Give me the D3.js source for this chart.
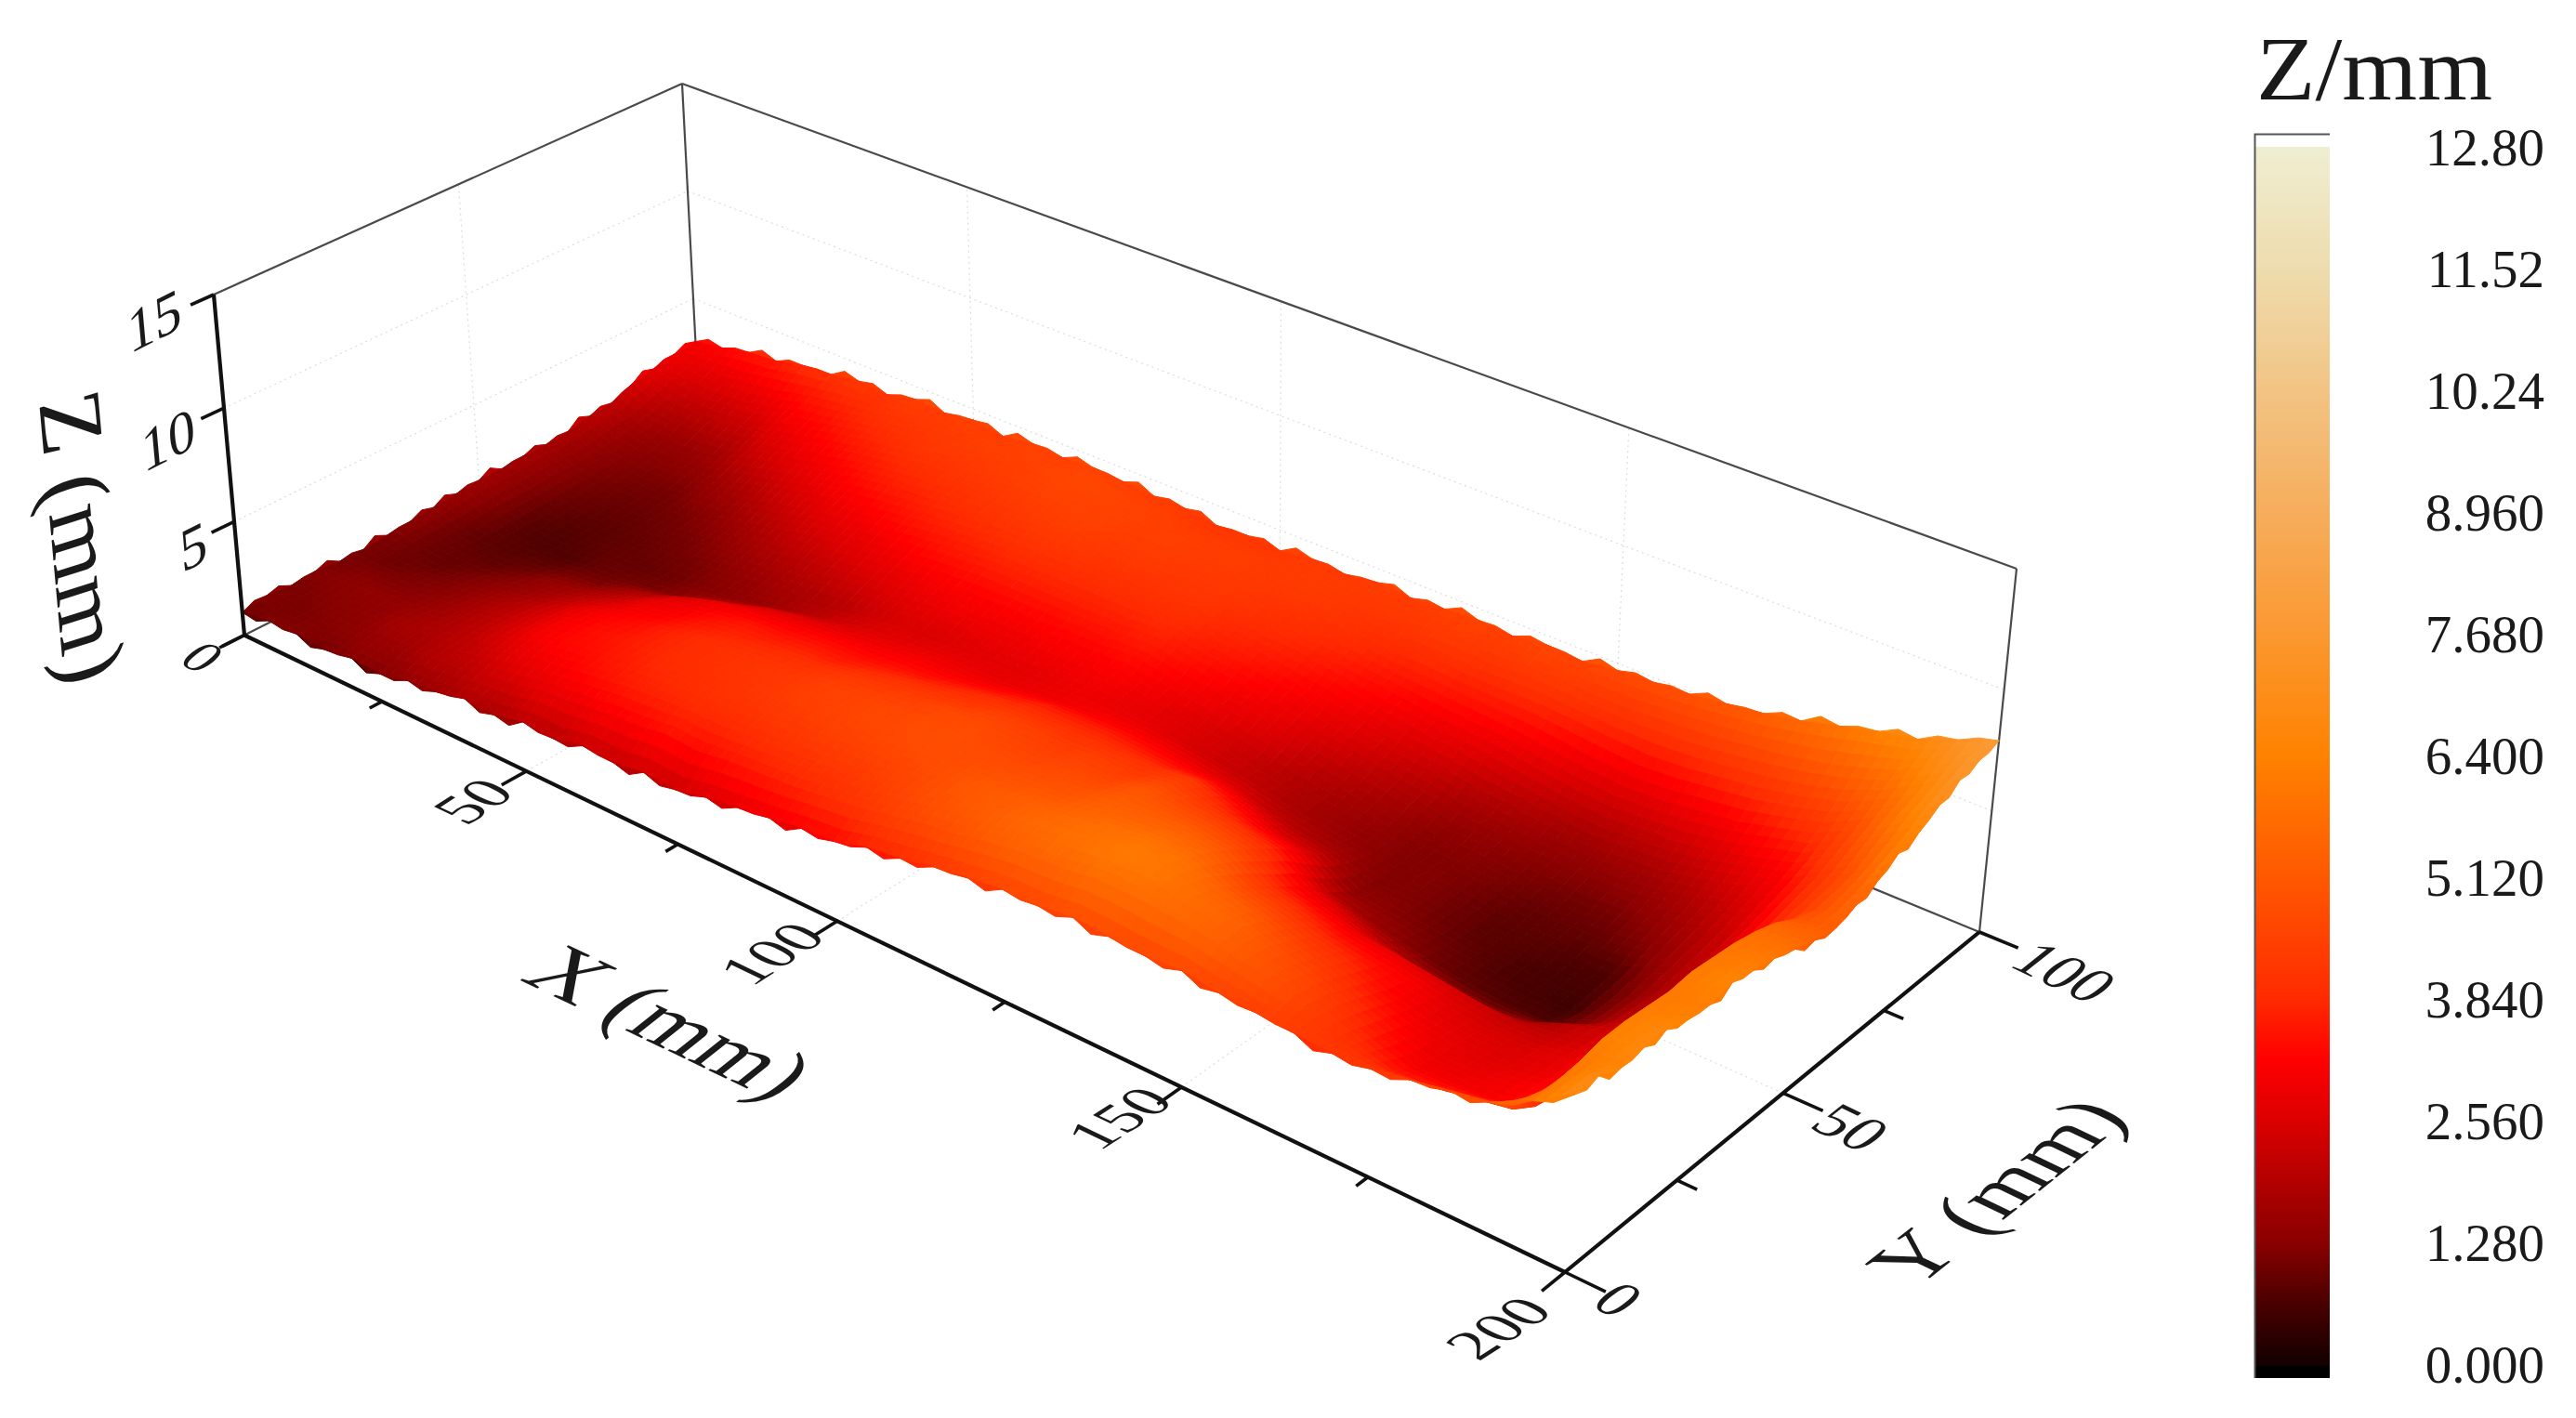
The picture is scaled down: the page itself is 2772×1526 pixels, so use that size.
<!DOCTYPE html>
<html><head><meta charset="utf-8">
<script src="https://cdn.jsdelivr.net/npm/d3@7/dist/d3.min.js"></script>
<style>html,body{margin:0;background:#fff}svg{display:block;filter:blur(.7px)}text{font-family:"Liberation Serif",serif;fill:#1a1a1a}</style>
</head><body><svg id="c" width="2772" height="1526"></svg>
<script>
// Surface heights (mm). One list per X position; each runs Y = 0, 5, ... 100.
const zX000=[1.0,1.2,1.1,1.2,1.1,1.1,1.2,1.3,1.4,1.5,1.6,1.6,1.7,1.7,1.8,2.0,2.1,2.5,2.7,2.9,3.0];
const zX005=[1.2,1.1,1.2,1.3,1.2,1.0,1.0,1.0,1.0,1.1,1.2,1.2,1.3,1.3,1.4,1.5,1.7,2.0,2.4,2.8,3.2];
const zX010=[1.2,1.2,1.3,1.4,1.2,1.1,.9,.9,.8,.8,.8,.9,1.0,1.1,1.2,1.3,1.5,1.9,2.3,2.8,3.5];
const zX015=[1.1,1.3,1.4,1.4,1.3,1.2,1.1,.9,.8,.7,.7,.8,.9,1.0,1.1,1.3,1.5,2.0,2.4,3.0,3.6];
const zX020=[1.3,1.5,1.7,1.6,1.5,1.4,1.3,1.1,.9,.7,.8,.8,.9,1.0,1.1,1.4,1.7,2.1,2.6,3.2,3.9];
const zX025=[1.2,1.6,1.8,1.8,1.8,1.7,1.5,1.4,1.1,.9,.9,.9,1.0,1.1,1.4,1.7,2.2,2.6,3.1,3.5,4.0];
const zX030=[1.5,1.9,2.0,2.1,2.1,2.0,1.8,1.6,1.2,1.0,.9,1.0,1.1,1.3,1.6,2.0,2.5,2.9,3.3,3.7,4.2];
const zX035=[1.6,2.0,2.3,2.5,2.5,2.4,2.2,1.9,1.6,1.1,1.0,1.1,1.3,1.6,2.0,2.4,2.8,3.2,3.6,3.9,4.1];
const zX040=[1.9,2.3,2.7,3.0,3.0,2.9,2.6,2.3,1.9,1.3,1.2,1.3,1.6,1.9,2.3,2.7,3.1,3.5,3.8,4.1,4.4];
const zX045=[1.8,2.5,3.0,3.3,3.3,3.2,3.0,2.8,2.4,1.7,1.3,1.5,1.8,2.2,2.6,3.0,3.4,3.7,4.0,4.2,4.3];
const zX050=[2.1,2.8,3.2,3.4,3.5,3.4,3.2,3.0,2.8,2.1,1.5,1.7,2.0,2.4,2.8,3.2,3.6,3.9,4.2,4.3,4.5];
const zX055=[2.0,2.9,3.4,3.6,3.7,3.7,3.5,3.3,3.0,2.5,1.8,1.8,2.2,2.6,3.0,3.4,3.7,4.0,4.2,4.4,4.3];
const zX060=[2.3,3.1,3.6,3.8,3.9,3.9,3.7,3.5,3.1,2.7,2.1,2.0,2.4,2.8,3.2,3.6,3.9,4.1,4.3,4.4,4.5];
const zX065=[2.2,3.2,3.7,3.9,4.0,4.0,3.8,3.5,3.2,2.8,2.4,2.3,2.6,3.0,3.4,3.7,4.0,4.2,4.4,4.5,4.4];
const zX070=[2.4,3.4,3.8,4.0,4.1,4.1,3.9,3.6,3.3,2.9,2.6,2.5,2.8,3.1,3.5,3.8,4.1,4.3,4.5,4.6,4.5];
const zX075=[2.3,3.3,3.8,4.1,4.2,4.2,4.0,3.6,3.3,3.0,2.7,2.5,2.9,3.2,3.6,3.9,4.2,4.4,4.5,4.6,4.4];
const zX080=[2.6,3.5,3.9,4.2,4.4,4.4,4.2,3.8,3.4,3.1,2.8,2.6,2.9,3.2,3.6,3.9,4.2,4.4,4.5,4.5,4.3];
const zX085=[2.8,3.6,4.0,4.3,4.5,4.5,4.3,4.0,3.5,3.1,2.8,2.7,2.9,3.2,3.6,3.9,4.1,4.3,4.4,4.4,4.3];
const zX090=[3.0,3.7,4.1,4.4,4.6,4.6,4.4,4.1,3.7,3.2,2.8,2.7,3.0,3.3,3.6,3.9,4.1,4.3,4.4,4.3,4.1];
const zX095=[3.2,3.9,4.2,4.5,4.7,4.7,4.6,4.2,3.9,3.4,2.9,2.8,3.0,3.3,3.6,3.9,4.1,4.2,4.3,4.3,4.2];
const zX100=[3.3,4.1,4.4,4.6,4.8,4.8,4.7,4.4,4.0,3.6,3.0,2.9,3.1,3.4,3.7,3.9,4.1,4.2,4.3,4.3,4.1];
const zX105=[3.7,4.4,4.7,4.8,4.8,4.7,4.6,4.4,4.0,3.6,3.1,2.8,2.9,3.2,3.5,3.7,3.9,4.1,4.2,4.3,4.3];
const zX110=[3.9,4.7,5.0,5.1,4.9,4.7,4.5,4.3,4.0,3.6,3.1,2.7,2.7,3.0,3.3,3.6,3.8,4.0,4.2,4.3,4.2];
const zX115=[4.2,4.9,5.2,5.2,5.0,4.8,4.6,4.4,4.0,3.5,3.0,2.5,2.5,2.8,3.1,3.4,3.7,3.9,4.1,4.2,4.4];
const zX120=[4.4,5.2,5.5,5.4,5.1,4.9,4.6,4.3,4.0,3.4,2.8,2.3,2.3,2.6,2.9,3.2,3.5,3.8,4.0,4.2,4.3];
const zX125=[4.6,5.4,5.7,5.6,5.4,5.2,5.0,4.6,4.2,3.4,2.6,2.1,2.0,2.3,2.6,3.0,3.3,3.6,3.9,4.2,4.4];
const zX130=[4.6,5.5,5.9,5.8,5.5,5.2,4.8,4.3,3.7,3.0,2.2,1.8,1.8,2.0,2.4,2.7,3.1,3.5,3.9,4.3,4.5];
const zX135=[4.8,5.7,6.1,6.0,5.6,5.2,4.7,4.1,3.3,2.5,1.9,1.6,1.6,1.8,2.1,2.5,2.9,3.4,3.8,4.2,4.4];
const zX140=[4.7,5.7,6.1,5.9,5.5,5.0,4.4,3.8,3.1,2.3,1.7,1.4,1.4,1.6,1.9,2.3,2.8,3.3,3.8,4.3,4.6];
const zX145=[4.6,5.6,5.7,5.4,4.8,4.2,3.5,2.9,2.0,1.4,1.2,1.2,1.2,1.3,1.6,2.0,2.6,3.2,3.8,4.3,4.5];
const zX150=[4.7,5.4,5.5,5.1,4.5,3.9,3.2,2.5,1.6,1.3,1.2,1.2,1.2,1.3,1.5,1.9,2.4,3.0,3.7,4.2,4.7];
const zX155=[4.5,5.1,5.0,4.6,4.1,3.5,2.9,2.0,1.3,1.1,1.0,1.0,1.1,1.2,1.4,1.7,2.2,2.8,3.6,4.2,4.8];
const zX160=[4.4,4.8,4.6,4.2,3.8,3.3,2.8,1.6,1.0,.9,.8,.8,.9,1.1,1.3,1.6,2.1,2.7,3.5,4.3,4.9];
const zX165=[4.3,4.3,4.1,3.7,3.3,3.1,2.6,1.3,.8,.7,.7,.8,.9,1.0,1.3,1.7,2.2,2.8,3.6,4.4,5.1];
const zX170=[4.2,3.9,3.5,3.2,2.9,2.7,2.4,1.2,.7,.6,.6,.7,.9,1.1,1.4,1.8,2.3,3.0,3.8,4.6,5.3];
const zX175=[4.3,3.5,3.0,2.8,2.7,2.5,2.2,1.4,.7,.5,.6,.7,1.1,1.4,1.7,2.1,2.6,3.2,4.0,4.8,5.6];
const zX180=[4.6,3.6,3.0,2.8,2.6,2.5,2.2,2.0,1.3,1.2,1.2,1.4,1.6,1.8,2.1,2.5,3.0,3.6,4.3,5.1,6.0];
const zX185=[4.9,3.9,3.1,3.0,2.8,2.7,2.5,2.4,2.2,2.1,2.0,2.1,2.2,2.4,2.7,3.0,3.4,4.0,4.7,5.5,6.4];
const zX190=[5.2,4.2,3.6,3.4,3.2,3.2,3.1,3.0,2.9,3.0,3.2,3.2,3.4,3.6,3.8,4.0,4.4,4.8,5.4,6.0,6.7];
const zX195=[6.0,6.0,6.1,6.3,6.3,6.2,6.1,6.2,6.1,6.0,5.8,5.5,5.0,4.7,4.8,5.0,5.5,6.0,6.3,6.9,7.3];
const zX200=[7.0,7.0,6.6,6.7,6.7,6.4,6.3,6.5,6.3,6.1,5.8,5.5,5.3,5.6,5.9,6.4,6.6,7.1,7.5,7.7,7.9];
const zColumns=[zX000,zX005,zX010,zX015,zX020,zX025,zX030,zX035,zX040,zX045,zX050,zX055,zX060,zX065,zX070,zX075,zX080,zX085,zX090,zX095,zX100,zX105,zX110,zX115,zX120,zX125,zX130,zX135,zX140,zX145,zX150,zX155,zX160,zX165,zX170,zX175,zX180,zX185,zX190,zX195,zX200];
const xStep=5, yStep=5;
// Roughness of the rim: height of the small scallop between two neighbouring grid points (mm).
const backRim=[.25,.1,.3,.15,.05,.3,.2,.1,.3,.05,.2,.3,.1,.25,.05,.3,.15,.25,.05,.2,.3,.1,.05,.25,.15,.3,.1,.2,.05,.3,.15,.1,.25,.05,.2,.3,.1,.25,.15,.1];
const frontRim=[.2,.1,.25,.05,.3,.15,.2,.05,.25,.3,.1,.2,.05,.3,.2,.1,.25,.05,.3,.15,.1,.25,.2,.05,.3,.1,.2,.3,.05,.2,.25,.1,.05,.3,.15,.2,.1,.25,.15,.2];
const leftRim=[.15,.2,.05,.25,.1,.3,.05,.2,.25,.1,.3,.05,.2,.1,.3,.15,.05,.25,.1,.2];
const rightRim=[.2,.3,.1,.25,.15,.05,.3,.1,.2,.05,.25,.15,.05,.2,.1,.25,.05,.2,.15,.1];

const xTickMajor=[0,50,100,150,200], xTickMinor=[25,75,125,175];
const yTickMajor=[0,50,100], yTickMinor=[25,75];
const zTicks=[0,5,10,15];
const legendValues=[0,1.28,2.56,3.84,5.12,6.4,7.68,8.96,10.24,11.52,12.8];
const legendLabels=["0.000","1.280","2.560","3.840","5.120","6.400","7.680","8.960","10.24","11.52","12.80"];
const colourStops=[0,.64,1.28,2.56,3.2,3.84,5.12,6.4,7.68,8.96,10.24,11.52,12.8];
const colourValues=["#140000","#4a0000","#8a0000","#dc0000","#ff0000","#ff2a00","#ff5800","#ff8200","#fb9830","#f6ad5c","#f2c484","#eedcae","#efeed2"];

const svg=d3.select("#c");
const colour=d3.scaleLinear().domain(colourStops).range(colourValues).clamp(true);
const sx=d3.scaleLinear().domain([0,200]).range([0,1]);
const sy=d3.scaleLinear().domain([0,100]).range([0,1]);
const sz=d3.scaleLinear().domain([0,15]).range([0,1]);

// Projective frame of the 3D box: corners (x=0,y=0),(x=200,y=0),(x=200,y=100),(x=0,y=100)
const floorCorners=[[263,683.5],[1684,1369],[2130,1003],[752,437]];
const ceilCorners=[[230,317],[1708,959],[2170,612],[734,90]];
function homography(q){
  const [[x0,y0],[x1,y1],[x2,y2],[x3,y3]]=q;
  const dx1=x1-x2,dx2=x3-x2,dx3=x0-x1+x2-x3,dy1=y1-y2,dy2=y3-y2,dy3=y0-y1+y2-y3;
  const den=dx1*dy2-dx2*dy1, g=(dx3*dy2-dx2*dy3)/den, h=(dx1*dy3-dx3*dy1)/den;
  const a=x1-x0+g*x1,b=x3-x0+h*x3,d=y1-y0+g*y1,e=y3-y0+h*y3;
  return (u,v)=>{const w=g*u+h*v+1;return [(a*u+b*v+x0)/w,(d*u+e*v+y0)/w];};
}
const floorH=homography(floorCorners), ceilH=homography(ceilCorners);
function P(x,y,z){
  const u=sx(x),v=sy(y),t=sz(z),a=floorH(u,v),b=ceilH(u,v);
  return [a[0]+(b[0]-a[0])*t,a[1]+(b[1]-a[1])*t];
}
const line=d3.line();

// faint grid
const gridSeg=[];
[50,100,150].forEach(x=>{gridSeg.push([P(x,0,0),P(x,100,0)]);gridSeg.push([P(x,100,0),P(x,100,15)]);});
gridSeg.push([P(0,50,0),P(200,50,0)],[P(0,50,0),P(0,50,15)]);
[5,10].forEach(z=>{gridSeg.push([P(0,0,z),P(0,100,z)],[P(0,100,z),P(200,100,z)]);});
svg.append("g").selectAll("path").data(gridSeg).join("path").attr("d",d=>line(d))
  .attr("fill","none").attr("stroke","#dcdcdc").attr("stroke-width",1.2).attr("stroke-dasharray","2 4");

// thin box
const boxSeg=[[P(0,0,15),P(0,100,15)],[P(0,100,15),P(200,100,15)],[P(0,100,0),P(0,100,15)],[P(200,100,0),P(200,100,15)],[P(0,100,0),P(200,100,0)],[P(0,0,0),P(0,100,0)]];
svg.append("g").selectAll("path").data(boxSeg).join("path").attr("d",d=>line(d))
  .attr("fill","none").attr("stroke","#4a4a4a").attr("stroke-width",2.2);

// surface rim scallops and cells
const nx=zColumns.length, ny=zColumns[0].length;
const rim=[];
for(let i=0;i<nx-1;i++){
  const a=zColumns[i][ny-1],b=zColumns[i+1][ny-1],m=(a+b)/2+backRim[i];
  rim.push({poly:[P(i*xStep,100,a),P((i+.5)*xStep,100,m),P((i+1)*xStep,100,b)],z:m});
}
for(let j=0;j<ny-1;j++){
  const a=zColumns[0][j],b=zColumns[0][j+1],m=(a+b)/2+leftRim[j];
  rim.push({poly:[P(0,j*yStep,a),P(0,(j+.5)*yStep,m),P(0,(j+1)*yStep,b)],z:m});
}
const rimNear=[];
for(let i=0;i<nx-1;i++){
  const a=zColumns[i][0],b=zColumns[i+1][0],m=(a+b)/2-frontRim[i];
  rimNear.push({poly:[P(i*xStep,0,a),P((i+.5)*xStep,0,m),P((i+1)*xStep,0,b)],z:m});
}
for(let j=0;j<ny-1;j++){
  const a=zColumns[nx-1][j],b=zColumns[nx-1][j+1],m=(a+b)/2-rightRim[j];
  rimNear.push({poly:[P(200,j*yStep,a),P(200,(j+.5)*yStep,m),P(200,(j+1)*yStep,b)],z:m});
}
const sub=3, cells=[];
for(let j=ny-2;j>=0;j--){
  for(let i=0;i<nx-1;i++){
    const z00=zColumns[i][j],z10=zColumns[i+1][j],z01=zColumns[i][j+1],z11=zColumns[i+1][j+1];
    const zb=(s,t)=>(z00*(1-s)+z10*s)*(1-t)+(z01*(1-s)+z11*s)*t;
    for(let b=sub-1;b>=0;b--)for(let a=0;a<sub;a++){
      const s0=a/sub,s1=(a+1)/sub,t0=b/sub,t1=(b+1)/sub;
      const pt=(s,t)=>P((i+s)*xStep,(j+t)*yStep,zb(s,t));
      cells.push({poly:[pt(s0,t0),pt(s1,t0),pt(s1,t1),pt(s0,t1)],z:zb((s0+s1)/2,(t0+t1)/2)});
    }
  }
}
svg.append("g").selectAll("path").data([...rim,...cells,...rimNear]).join("path")
  .attr("d",d=>line(d.poly)+"Z").attr("fill",d=>colour(d.z)).attr("stroke",d=>colour(d.z)).attr("stroke-width",1);

// heavy axes
const axisSeg=[[P(0,0,0),P(200,0,0)],[P(200,0,0),P(200,100,0)],[P(0,0,0),P(0,0,15)]];
svg.append("g").selectAll("path").data(axisSeg).join("path").attr("d",d=>line(d))
  .attr("fill","none").attr("stroke","#111").attr("stroke-width",4.2);
const tickSeg=[];
xTickMajor.forEach(x=>tickSeg.push([P(x,0,0),P(x,-5,0)]));
xTickMinor.forEach(x=>tickSeg.push([P(x,0,0),P(x,-2.5,0)]));
yTickMajor.forEach(y=>tickSeg.push([P(200,y,0),P(205,y,0)]));
yTickMinor.forEach(y=>tickSeg.push([P(200,y,0),P(202.5,y,0)]));
zTicks.forEach(z=>tickSeg.push([P(0,0,z),P(0,-4.5,z)]));
svg.append("g").selectAll("path").data(tickSeg).join("path").attr("d",d=>line(d))
  .attr("fill","none").attr("stroke","#111").attr("stroke-width",3.6);

// text that lies in the planes of the box
function planeText(t,c,u,v,size){
  svg.append("text").text(t).attr("text-anchor","middle").attr("dominant-baseline","central")
    .attr("font-size",size).attr("transform",`matrix(${u[0]},${u[1]},${v[0]},${v[1]},${c[0]},${c[1]})`);
}
const uX=[.84,-.54],vX=[.9,.43],uY=[.9,.43],vY=[-.78,.62],uZ=[.89,-.45],vZ=[.09,1];
[[0,[218,707]],[50,[509,862]],[100,[830,1026]],[150,[1204,1203]],[200,[1612,1429]]].forEach(([v,c])=>{
  if(v===0) planeText(String(v),c,uY,vY,58); else planeText(String(v),c,uX,vX,66);
});
[[0,[1742,1398]],[50,[1992,1213]],[100,[2222,1046]]].forEach(([v,c])=>planeText(String(v),c,uY,vY,66));
[[5,[208,588]],[10,[181,473]],[15,[166,345]]].forEach(([v,c])=>planeText(String(v),c,uZ,vZ,64));
planeText("X (mm)",[721,1100],uY,vY,96);
planeText("Y (mm)",[2148,1282],[.78,-.62],[.9,.43],94);
planeText("Z (mm)",[88,578],[.09,1],[-.95,.3],100);

// colour bar
const barY=d3.scaleLinear().domain([0,12.8]).range([1468,158]);
const grad=svg.append("defs").append("linearGradient").attr("id","bar").attr("x1",0).attr("x2",0).attr("y1",0).attr("y2",1);
const barTop=158,barBottom=1470;
colourStops.slice().reverse().forEach(v=>{
  grad.append("stop").attr("offset",(barY(v)-barTop)/(barBottom-barTop)).attr("stop-color",colour(v));
});
svg.append("rect").attr("x",2426).attr("y",barTop).attr("width",81).attr("height",barBottom-barTop).attr("fill","url(#bar)");
svg.append("rect").attr("x",2426).attr("y",barBottom).attr("width",81).attr("height",13).attr("fill","#000");
svg.append("path").attr("d","M2426.5 1483V144.5H2507").attr("fill","none").attr("stroke","#555").attr("stroke-width",2);
svg.append("g").selectAll("text").data(legendValues).join("text")
  .attr("x",2738).attr("y",d=>barY(d)).attr("text-anchor","end").attr("dominant-baseline","central")
  .attr("font-size",57).attr("fill","#222").text((d,i)=>legendLabels[i]);
svg.append("text").attr("x",2428).attr("y",107).attr("font-size",98).attr("textLength",254).attr("lengthAdjust","spacingAndGlyphs").text("Z/mm");
</script></body></html>
